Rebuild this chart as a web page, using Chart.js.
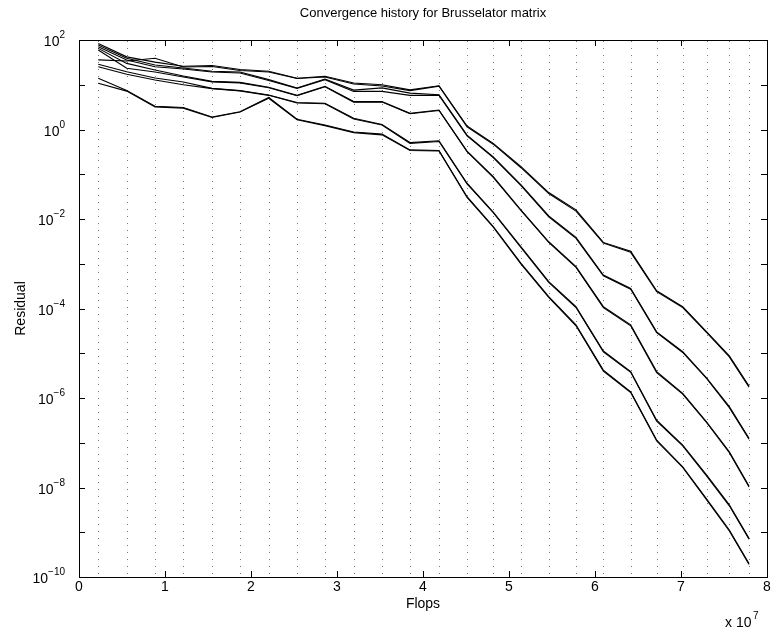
<!DOCTYPE html>
<html>
<head>
<meta charset="utf-8">
<script src="https://cdn.jsdelivr.net/npm/chart.js@4"></script>
<style>
  html, body { margin: 0; padding: 0; background: #fff; }
  #wrap { width: 772px; height: 631px; }
</style>
</head>
<body>
<div id="wrap"><canvas id="conv" width="772" height="631"></canvas></div>
<script>
// flops at each iteration, in units of 1e7
const flops = [0.224, 0.555, 0.884, 1.213, 1.547, 1.872, 2.206, 2.535, 2.860, 3.194, 3.523, 3.849, 4.186,
               4.512, 4.817, 5.140, 5.462, 5.779, 6.097, 6.415, 6.717, 7.020, 7.299, 7.562, 7.791];

// residual histories (10 runs, they pair up after ~4e7 flops)
const res1  = [84, 42, 32, 26, 27, 22, 20, 14, 15.5, 10.9, 10.0, 7.7, 9.5, 1.2, 0.49, 0.148, 0.039, 0.016, 3.0e-3, 1.9e-3, 2.5e-4, 1.1e-4, 3.0e-5, 8.7e-6, 1.85e-6];
const res2  = [36, 34, 39, 25, 25.6, 20.8, 19.3, 13.8, 14.9, 10.4, 9.4, 7.4, 9.3, 1.15, 0.47, 0.14, 0.037, 0.015, 2.9e-3, 1.8e-3, 2.4e-4, 1.05e-4, 2.9e-5, 8.3e-6, 1.75e-6];
const res3  = [77, 39, 27.6, 23.7, 20, 19.3, 13, 8.5, 13.4, 7.6, 8.5, 6.5, 6.0, 0.75, 0.243, 0.058, 0.0117, 3.9e-3, 5.6e-4, 2.8e-4, 3.0e-5, 1.08e-5, 2.8e-6, 6.4e-7, 1.26e-7];
const res4  = [71, 35.7, 25.3, 22.5, 19.3, 18.3, 12.5, 8.3, 13, 7.1, 7.1, 5.8, 5.8, 0.72, 0.235, 0.056, 0.0112, 3.7e-3, 5.4e-4, 2.7e-4, 2.9e-5, 1.04e-5, 2.7e-6, 6.1e-7, 1.2e-7];
const res5  = [65, 30, 21.4, 15.7, 11.9, 11.3, 8.8, 5.8, 9.2, 4.2, 4.2, 2.3, 2.73, 0.33, 0.088, 0.0159, 3.1e-3, 8.6e-4, 1.1e-4, 4.3e-5, 3.9e-6, 1.27e-6, 2.9e-7, 6.3e-8, 1.08e-8];
const res6  = [60, 23.3, 19.3, 14.9, 11.6, 11.0, 8.6, 5.7, 9.0, 4.1, 4.1, 2.25, 2.65, 0.32, 0.085, 0.0153, 3.0e-3, 8.3e-4, 1.05e-4, 4.1e-5, 3.7e-6, 1.22e-6, 2.8e-7, 6.0e-8, 1.03e-8];
const res7  = [28.6, 19.6, 14.2, 11.5, 8.3, 7.4, 5.9, 4.0, 3.85, 1.78, 1.3, 0.51, 0.56, 0.063, 0.0143, 2.4e-3, 4.0e-4, 1.1e-4, 1.12e-5, 3.9e-6, 3.2e-7, 8.9e-8, 1.9e-8, 4.1e-9, 7.3e-10];
const res8  = [25.3, 17.1, 12.8, 10.0, 8.2, 7.3, 5.8, 3.9, 3.75, 1.72, 1.26, 0.49, 0.54, 0.061, 0.0138, 2.3e-3, 3.85e-4, 1.05e-4, 1.07e-5, 3.75e-6, 3.05e-7, 8.5e-8, 1.8e-8, 3.9e-9, 7.0e-10];
const res9  = [13.9, 7.4, 3.3, 3.1, 1.9, 2.5, 5.2, 1.7, 1.26, 0.88, 0.79, 0.35, 0.34, 0.0315, 6.8e-3, 1.02e-3, 1.84e-4, 4.3e-5, 4.2e-6, 1.38e-6, 1.15e-7, 2.9e-8, 5.5e-9, 1.12e-9, 2.0e-10];
const res10 = [10.8, 7.2, 3.2, 3.0, 1.85, 2.45, 5.0, 1.65, 1.22, 0.85, 0.76, 0.34, 0.33, 0.0305, 6.6e-3, 9.8e-4, 1.77e-4, 4.1e-5, 4.0e-6, 1.33e-6, 1.1e-7, 2.8e-8, 5.3e-9, 1.07e-9, 1.9e-10];

const runs = [res1, res2, res3, res4, res5, res6, res7, res8, res9, res10];

const xTicks = [0, 1, 2, 3, 4, 5, 6, 7, 8];
const yDecades = [2, 1, 0, -1, -2, -3, -4, -5, -6, -7, -8, -9, -10];
const yLabelled = [2, 0, -2, -4, -6, -8, -10];

const FONT = '"Liberation Sans", Arial, Helvetica, sans-serif';

// matlab-ish axes: dotted grid at iterations, inner ticks, 10^k labels
const matlabAxes = {
    id: 'matlabAxes',
    beforeDraw(chart) {
        const c = chart.ctx;
        c.save();
        c.fillStyle = '#fff';
        c.fillRect(0, 0, chart.width, chart.height);
        c.restore();
    },
    beforeDatasetsDraw(chart) {
        const c = chart.ctx;
        const { top, bottom } = chart.chartArea;
        const xs = chart.scales.x;
        c.save();
        c.strokeStyle = '#777';
        c.lineWidth = 1;
        c.setLineDash([1, 6]);
        flops.forEach(f => {
            const px = Math.round(xs.getPixelForValue(f)) + 0.5;
            c.beginPath();
            c.moveTo(px, top + 1);
            c.lineTo(px, bottom);
            c.stroke();
        });
        c.restore();
    },
    afterDraw(chart) {
        const c = chart.ctx;
        const { left, right, top, bottom } = chart.chartArea;
        const xs = chart.scales.x, ys = chart.scales.y;
        c.save();
        c.strokeStyle = '#000';
        c.lineWidth = 1;
        c.setLineDash([]);
        c.strokeRect(Math.round(left) + 0.5, Math.round(top) + 0.5,
                     Math.round(right - left), Math.round(bottom - top));

        // ticks
        c.beginPath();
        yDecades.forEach(k => {
            const py = Math.round(ys.getPixelForValue(Math.pow(10, k))) + 0.5;
            c.moveTo(left, py); c.lineTo(left + 6, py);
            c.moveTo(right - 6, py); c.lineTo(right, py);
        });
        xTicks.forEach(t => {
            const px = Math.round(xs.getPixelForValue(t)) + 0.5;
            c.moveTo(px, bottom); c.lineTo(px, bottom - 6);
            c.moveTo(px, top); c.lineTo(px, top + 6);
        });
        c.stroke();

        c.fillStyle = '#000';
        // y tick labels 10^k
        yLabelled.forEach(k => {
            const py = ys.getPixelForValue(Math.pow(10, k));
            const exp = k < 0 ? '\u2212' + (-k) : String(k);
            c.font = '10px ' + FONT;
            c.textAlign = 'right';
            c.textBaseline = 'alphabetic';
            const ew = c.measureText(exp).width;
            const xr = left - 14;
            c.fillText(exp, xr, py - 2);
            c.font = '14px ' + FONT;
            c.fillText('10', xr - ew, py + 6);
        });

        // x tick labels
        c.font = '14px ' + FONT;
        c.textAlign = 'center';
        c.textBaseline = 'alphabetic';
        xTicks.forEach(t => {
            c.fillText(String(t), xs.getPixelForValue(t), bottom + 14);
        });

        // axis labels
        c.font = '14px ' + FONT;
        c.fillText('Flops', (left + right) / 2, bottom + 31);
        c.textAlign = 'left';
        c.fillText('x 10', right - 42, bottom + 50);
        c.font = '10px ' + FONT;
        c.fillText('7', right - 14, bottom + 42);

        c.save();
        c.font = '14px ' + FONT;
        c.textAlign = 'center';
        c.translate(25, (top + bottom) / 2);
        c.rotate(-Math.PI / 2);
        c.fillText('Residual', 0, 0);
        c.restore();

        // title
        c.font = '13px ' + FONT;
        c.textAlign = 'center';
        c.fillText('Convergence history for Brusselator matrix', (left + right) / 2, 17);
        c.restore();
    }
};

new Chart(document.getElementById('conv'), {
    type: 'line',
    data: {
        datasets: runs.map((r, i) => ({
            label: 'run ' + (i + 1),
            data: flops.map((f, j) => ({ x: f, y: r[j] })),
            borderColor: '#000',
            borderWidth: 1.1,
            pointRadius: 0,
            tension: 0,
            fill: false
        }))
    },
    options: {
        responsive: false,
        animation: false,
        layout: { padding: { left: 79, right: 5, top: 40, bottom: 54 } },
        scales: {
            x: { type: 'linear', min: 0, max: 8, display: false },
            y: { type: 'logarithmic', min: 1e-10, max: 1e2, display: false }
        },
        plugins: {
            legend: { display: false },
            tooltip: { enabled: false }
        }
    },
    plugins: [matlabAxes]
});
</script>
</body>
</html>
